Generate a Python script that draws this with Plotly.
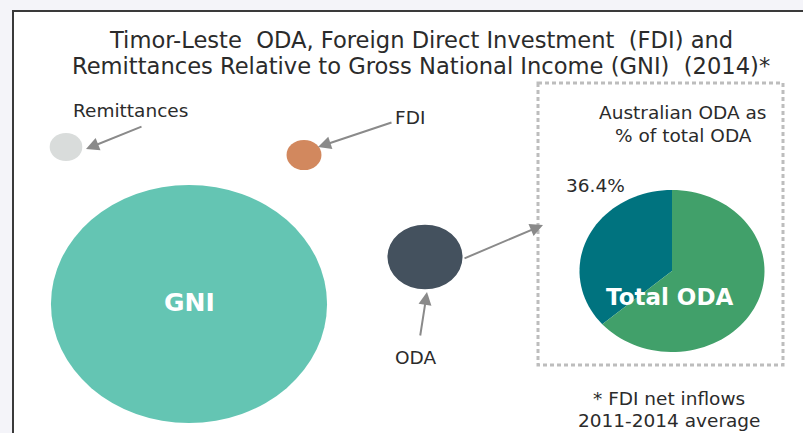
import math
import plotly.graph_objects as go

# Size of each flow relative to gross national income (GNI = 100)
categories = ["GNI", "ODA", "FDI", "Remittances"]
pct_of_gni = [100.0, 7.4, 1.6, 1.4]

# Composition of total ODA
oda_donors = ["Australia", "Other donors"]
oda_share = [36.4, 63.6]

title_lines = [
    "Timor-Leste  ODA, Foreign Direct Investment  (FDI) and",
    "Remittances Relative to Gross National Income (GNI)  (2014)*",
]
footnote_lines = ["* FDI net inflows", "2011-2014 average"]

W, H = 803, 433
FONT = "DejaVu Sans"
TEXT = "#2b2b2b"
LABEL_SIZE = 18.5

# bubble placement and styling
bubble_center = {
    "GNI": (189, 304),
    "ODA": (425, 257),
    "FDI": (304, 155),
    "Remittances": (66, 147),
}
bubble_color = {
    "GNI": "#64c5b3",
    "ODA": "#44515e",
    "FDI": "#d2885e",
    "Remittances": "#d9dcdb",
}
GNI_RY = 119.0      # vertical radius of the GNI bubble
X_STRETCH = 1.16    # bubbles are drawn slightly wider than tall

pie_center = (672, 271)
pie_rx, pie_ry = 92.5, 81.0
pie_colors = ["#00737f", "#41a06a"]

fig = go.Figure()
shapes = []
annotations = []

# white panel with dark frame
shapes.append(dict(type="rect", xref="x", yref="y", x0=13, y0=11, x1=W + 20, y1=H + 20,
                   fillcolor="white", line=dict(color="#3a3a3a", width=2), layer="below"))

# bubbles: area proportional to share of GNI
for cat, v in zip(categories, pct_of_gni):
    cx, cy = bubble_center[cat]
    ry = GNI_RY * math.sqrt(v / 100.0)
    rx = ry * X_STRETCH
    shapes.append(dict(type="circle", xref="x", yref="y",
                       x0=cx - rx, x1=cx + rx, y0=cy - ry, y1=cy + ry,
                       fillcolor=bubble_color[cat], line=dict(width=0)))

# dotted frame around the ODA breakdown
shapes.append(dict(type="rect", xref="x", yref="y", x0=538, y0=83, x1=783, y1=365,
                   fillcolor="rgba(0,0,0,0)",
                   line=dict(color="#bdbdbd", width=3, dash="4px,3px")))

# ODA breakdown pie, first slice starting at 12 o'clock going counterclockwise
def ellipse_point(t):
    cx, cy = pie_center
    return cx - pie_rx * math.sin(t), cy - pie_ry * math.cos(t)

total = sum(oda_share)
start = 0.0
for share, col in zip(oda_share, pie_colors):
    end = start + 2 * math.pi * share / total
    n = max(8, int(120 * share / total))
    pts = [ellipse_point(start + (end - start) * i / n) for i in range(n + 1)]
    path = "M {},{} ".format(*pie_center) + " ".join(
        "L {:.2f},{:.2f}".format(x, y) for x, y in pts) + " Z"
    shapes.append(dict(type="path", xref="x", yref="y", path=path,
                       fillcolor=col, line=dict(width=0)))
    start = end

# title
for i, line in enumerate(title_lines):
    annotations.append(dict(x=421, y=40 + 26 * i, xref="x", yref="y", text=line,
                            showarrow=False, font=dict(family=FONT, size=22.6, color=TEXT)))

def label(x, y, text, size=LABEL_SIZE, color=TEXT, bold=False):
    t = "<b>{}</b>".format(text) if bold else text
    annotations.append(dict(x=x, y=y, xref="x", yref="y", text=t, showarrow=False,
                            font=dict(family=FONT, size=size, color=color)))

def arrow(x_tail, y_tail, x_head, y_head):
    annotations.append(dict(x=x_head, y=y_head, ax=x_tail, ay=y_tail,
                            xref="x", yref="y", axref="x", ayref="y", text="",
                            showarrow=True, arrowhead=2, arrowsize=1.3,
                            arrowwidth=2, arrowcolor="#8a8a8a"))

label(130, 110, "Remittances")
label(410, 117, "FDI")
label(415, 357, "ODA")
label(189, 302, "GNI", size=25, color="white", bold=True)

arrow(143, 126, 86, 149)
arrow(393, 122, 318, 147)
arrow(420, 337, 427, 292)
arrow(463, 259, 543, 225)

label(682, 112, "Australian ODA as")
label(683, 135, "% of total ODA")
label(595, 185, "{:.1f}%".format(oda_share[0]))
label(669, 297, "Total ODA", size=23, color="white", bold=True)

for i, line in enumerate(footnote_lines):
    label(669, 398 + 22 * i, line)

fig.update_layout(
    width=W, height=H,
    margin=dict(l=0, r=0, t=0, b=0),
    paper_bgcolor="#f4f4f9",
    plot_bgcolor="#f4f4f9",
    showlegend=False,
    xaxis=dict(range=[0, W], visible=False, fixedrange=True),
    yaxis=dict(range=[H, 0], visible=False, fixedrange=True),
    shapes=shapes,
    annotations=annotations,
)

fig.write_html("out.html")
